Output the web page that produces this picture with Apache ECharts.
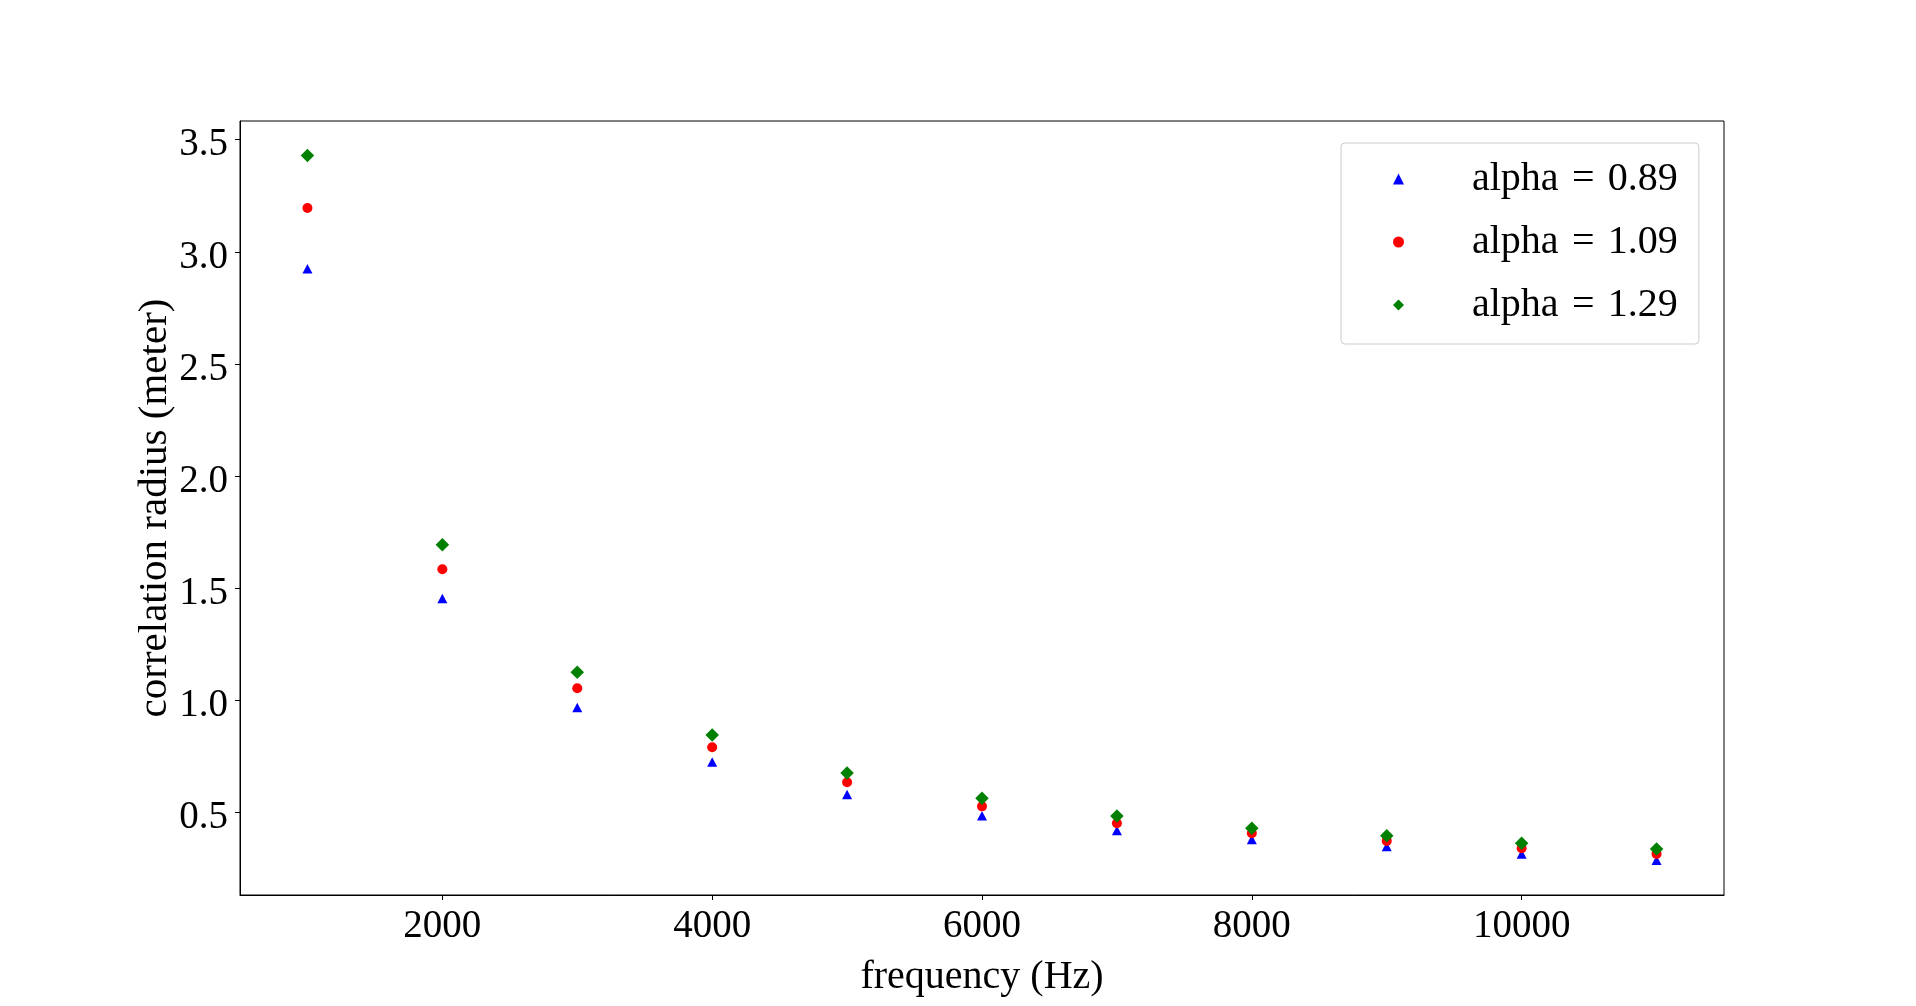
<!DOCTYPE html>
<html>
<head>
<meta charset="utf-8">
<script src="https://cdn.jsdelivr.net/npm/echarts@6/dist/echarts.min.js"></script>
<style>
html,body{margin:0;padding:0;background:#fff;}
#chart{width:1916px;height:1006px;}
</style>
</head>
<body>
<div id="chart"></div>
<script>
// Data
const frequencies = [1000, 2000, 3000, 4000, 5000, 6000, 7000, 8000, 9000, 10000, 11000];
const alpha089 = [2.924, 1.453, 0.966, 0.723, 0.578, 0.483, 0.417, 0.377, 0.346, 0.312, 0.285];
const alpha109 = [3.195, 1.583, 1.052, 0.789, 0.633, 0.525, 0.450, 0.405, 0.371, 0.338, 0.313];
const alpha129 = [3.429, 1.692, 1.124, 0.844, 0.674, 0.561, 0.482, 0.427, 0.394, 0.360, 0.335];
const seriesNames = ['alpha = 0.89', 'alpha = 1.09', 'alpha = 1.29'];
const xTicks = [2000, 4000, 6000, 8000, 10000];
const yTicks = [0.5, 1.0, 1.5, 2.0, 2.5, 3.0, 3.5];

const FONT = '"Liberation Serif", "DejaVu Serif", serif';
const FS = 39;

function pairs(ys) { return frequencies.map((f, i) => [f, ys[i]]); }

const chart = echarts.init(document.getElementById('chart'), null, {renderer: 'canvas'});
chart.setOption({
  backgroundColor: '#ffffff',
  animation: false,
  textStyle: {fontFamily: FONT},
  grid: {
    left: 240, right: 192, top: 121, bottom: 111,
    show: true, borderColor: '#000', borderWidth: 1, backgroundColor: 'transparent',
    containLabel: false
  },
  xAxis: {
    type: 'value', min: 500, max: 11500,
    name: 'frequency (Hz)', nameLocation: 'middle', nameGap: 62, nameMoveOverlap: false,
    nameTextStyle: {fontFamily: FONT, fontSize: 40, color: '#000'},
    axisLine: {show: true, lineStyle: {color: '#000', width: 1}},
    axisTick: {show: true, inside: false, length: 5, lineStyle: {color: '#000', width: 1}, customValues: xTicks},
    axisLabel: {show: true, margin: 12, fontFamily: FONT, fontSize: FS, color: '#000', customValues: xTicks,
      formatter: v => String(v)},
    splitLine: {show: false}
  },
  yAxis: {
    type: 'value', min: 0.1295, max: 3.5835,
    name: 'correlation radius (meter)', nameLocation: 'middle', nameGap: 64, nameRotate: 90, nameMoveOverlap: false,
    nameTextStyle: {fontFamily: FONT, fontSize: 41, color: '#000'},
    axisLine: {show: true, lineStyle: {color: '#000', width: 1}},
    axisTick: {show: true, inside: false, length: 5, lineStyle: {color: '#000', width: 1}, customValues: yTicks},
    axisLabel: {show: true, margin: 12, fontFamily: FONT, fontSize: FS, color: '#000', customValues: yTicks,
      formatter: v => '{v|' + Number(v).toFixed(1) + '}',
      rich: {v: {fontFamily: FONT, fontSize: FS, color: '#000', lineHeight: 50, verticalAlign: 'bottom'}}},
    splitLine: {show: false}
  },
  legend: {
    show: true,
    orient: 'vertical',
    left: 1341, top: 143,
    padding: [14, 21, 17, 52],
    itemWidth: 11, itemHeight: 11,
    itemGap: 19,
    backgroundColor: 'rgba(255,255,255,0.8)',
    borderColor: '#cccccc', borderWidth: 1, borderRadius: 4,
    formatter: name => name.replace(' = ', '\u2004=\u2004'),
    textStyle: {fontFamily: FONT, fontSize: 40, color: '#000', lineHeight: 44, padding: [0, 0, 0, 63]},
    data: seriesNames
  },
  series: [
    {name: seriesNames[0], type: 'scatter', symbol: 'triangle', symbolSize: [10, 9.5],
     itemStyle: {color: '#0000ff', opacity: 1}, data: pairs(alpha089)},
    {name: seriesNames[1], type: 'scatter', symbol: 'circle', symbolSize: 10,
     itemStyle: {color: '#ff0000', opacity: 1}, data: pairs(alpha109)},
    {name: seriesNames[2], type: 'scatter', symbol: 'diamond', symbolSize: 13.5,
     itemStyle: {color: '#008000', opacity: 1}, data: pairs(alpha129)}
  ]
});
</script>
</body>
</html>
